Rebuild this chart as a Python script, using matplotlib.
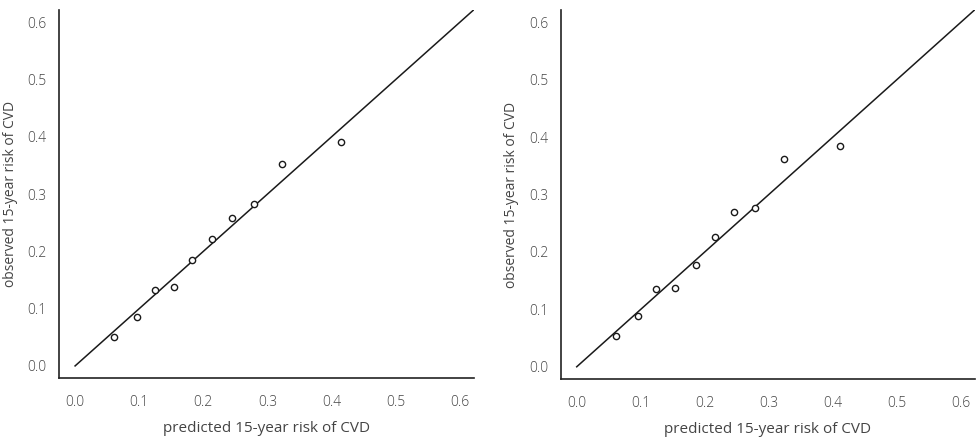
import matplotlib
matplotlib.use("Agg")
import matplotlib.pyplot as plt

plt.rcParams['font.family'] = ['Open Sans', 'DejaVu Sans']
plt.rcParams['font.weight'] = 'light'

# Calibration data: predicted vs observed 15-year CVD risk (deciles)
pred_a = [0.061, 0.097, 0.124, 0.154, 0.183, 0.214, 0.245, 0.279, 0.323, 0.414]
obs_a = [0.051, 0.086, 0.133, 0.137, 0.185, 0.222, 0.258, 0.283, 0.352, 0.391]

pred_b = [0.061, 0.096, 0.124, 0.153, 0.186, 0.216, 0.245, 0.279, 0.324, 0.411]
obs_b = [0.054, 0.089, 0.135, 0.137, 0.178, 0.226, 0.270, 0.276, 0.361, 0.385]

ticks = [0.0, 0.1, 0.2, 0.3, 0.4, 0.5, 0.6]
tick_labels = ["0.0", "0.1", "0.2", "0.3", "0.4", "0.5", "0.6"]

fig = plt.figure(figsize=(9.76, 4.4), dpi=100)
ax_a = fig.add_axes([0.0605, 0.141, 0.4252, 0.836])
ax_b = fig.add_axes([0.5745, 0.139, 0.4245, 0.838])

text_col = "#444444"

for ax, px, oy in [(ax_a, pred_a, obs_a), (ax_b, pred_b, obs_b)]:
    ax.plot([0, 0.7], [0, 0.7], color="#1a1a1a", lw=1.1, zorder=2)
    ax.plot(px, oy, linestyle="none", marker="o", markersize=4.5,
            markerfacecolor="white", markeredgecolor="#1a1a1a",
            markeredgewidth=1.0, zorder=3)
    ax.set_xlim(-0.025, 0.622)
    ax.set_ylim(-0.021, 0.621)
    ax.set_xticks(ticks)
    ax.set_xticklabels(tick_labels)
    ax.set_yticks(ticks)
    ax.set_yticklabels(tick_labels)
    ax.tick_params(axis="both", length=0, labelsize=10, colors=text_col)
    ax.tick_params(axis="x", pad=12)
    ax.tick_params(axis="y", pad=9)
    for side in ("top", "right"):
        ax.spines[side].set_visible(False)
    for side in ("left", "bottom"):
        ax.spines[side].set_linewidth(1.2)
        ax.spines[side].set_color("#222222")
    ax.set_xlabel("predicted 15-year risk of CVD", fontsize=11, color=text_col,
                  labelpad=8)
    ax.set_ylabel("observed 15-year risk of CVD", fontsize=10, color=text_col,
                  labelpad=7)

fig.savefig("out.png", dpi=100)
